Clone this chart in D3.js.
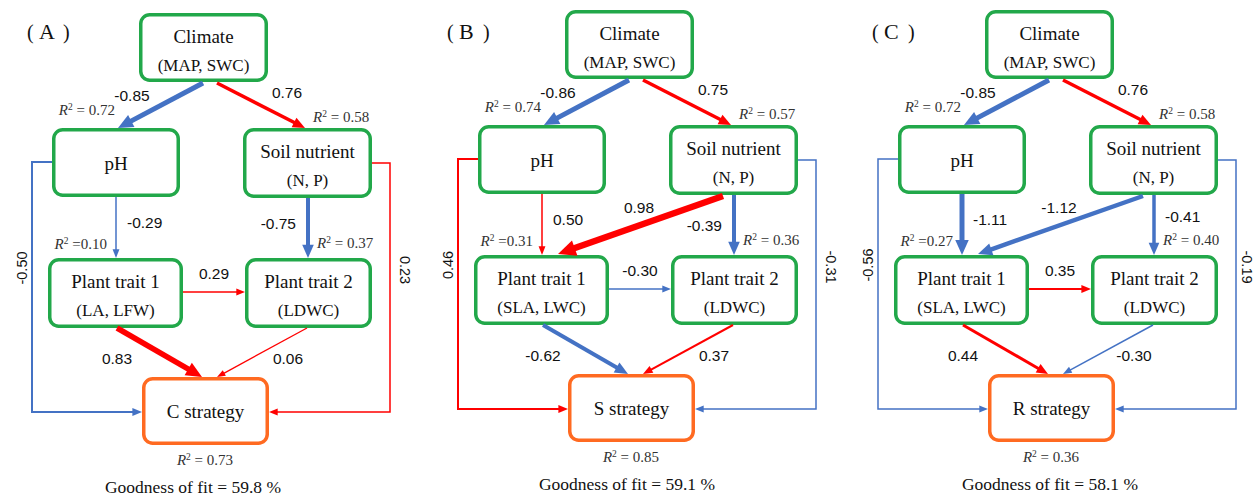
<!DOCTYPE html>
<html><head><meta charset="utf-8">
<script src="https://cdn.jsdelivr.net/npm/d3@7"></script>
<style>html,body{margin:0;padding:0;background:#fff;}</style>
</head><body>
<svg id="chart" width="1255" height="497"></svg>
<script>
// ---------------- DATA ----------------
const panels = ["A", "B", "C"];
const strategies = ["C strategy", "S strategy", "R strategy"];
const trait1Labels = ["(LA, LFW)", "(SLA, LWC)", "(SLA, LWC)"];
const goodnessOfFit = [59.8, 59.1, 58.1];

const r2pH = [0.72, 0.74, 0.72];
const r2Soil = [0.58, 0.57, 0.58];
const r2Trait1 = [0.10, 0.31, 0.27];
const r2Trait2 = [0.37, 0.36, 0.40];
const r2Strategy = [0.73, 0.85, 0.36];

const climateToPH = [-0.85, -0.86, -0.85];
const climateToSoil = [0.76, 0.75, 0.76];
const pHToTrait1 = [-0.29, 0.50, -1.11];
const soilToTrait2 = [-0.75, -0.39, -0.41];
const soilToTrait1 = [null, 0.98, -1.12];
const trait1ToTrait2 = [0.29, -0.30, 0.35];
const trait1ToStrategy = [0.83, -0.62, 0.44];
const trait2ToStrategy = [0.06, 0.37, -0.30];
const pHToStrategy = [-0.50, 0.46, -0.56];
const soilToStrategy = [0.23, -0.31, -0.19];

// ---------------- STYLE / LAYOUT ----------------
const lineWidths = {
  climateToPH: [5, 5, 5], climateToSoil: [3.5, 3.5, 3.5],
  pHToTrait1: [1.5, 1.5, 5], soilToTrait2: [4, 4, 3.5],
  soilToTrait1: [0, 6.5, 4.5], trait1ToTrait2: [1.5, 1.5, 2],
  trait1ToStrategy: [5.5, 4, 3], trait2ToStrategy: [1.3, 2, 1.5],
  pHToStrategy: [2, 2, 1.5], soilToStrategy: [1.5, 1.5, 1.5]
};
const panelX = d3.scaleOrdinal().domain([0, 1, 2]).range([0, 426, 846]);
const panelY = d3.scaleOrdinal().domain([0, 1, 2]).range([0, -3, -3]);
const titleInkX = [27, 447, 872];
const goodX = [193, 201, 204];
const rightLabelX = [400, 400, 396];

const boxes = {
  climate: {x: 139, y: 13, w: 129, h: 69},
  pH: {x: 52, y: 128, w: 128, h: 69},
  soil: {x: 243, y: 128, w: 129, h: 70},
  trait1: {x: 48, y: 258, w: 135, h: 70},
  trait2: {x: 245, y: 258, w: 127, h: 70},
  strategy: {x: 142, y: 377, w: 127, h: 68}
};
const geom = {
  climateToPH: [[203, 83], [118, 128]],
  climateToSoil: [[217, 83], [305, 128]],
  pHToTrait1: [[116, 197], [116, 258]],
  soilToTrait2: [[308, 198], [308, 258]],
  soilToTrait1: [[297, 199], [132, 257]],
  trait1ToTrait2: [[183, 292], [245, 292]],
  trait1ToStrategy: [[117, 328], [202, 377]],
  trait2ToStrategy: [[307, 328], [217, 377]],
  pHToStrategy: [[52, 162], [32, 162], [32, 412], [142, 412]],
  soilToStrategy: [[372, 163], [390, 163], [390, 412], [269, 412]]
};
const labelPos = {
  climateToPH: () => ({x: 132, y: 101, a: "middle"}),
  climateToSoil: () => ({x: 287, y: 98, a: "middle"}),
  pHToTrait1: () => ({x: 127, y: 228, a: "start"}),
  soilToTrait2: i => i === 2 ? {x: 319, y: 225, a: "start"} : {x: 296, y: i === 0 ? 229 : 234, a: "end"},
  soilToTrait1: () => ({x: 213, y: 216, a: "middle"}),
  trait1ToTrait2: () => ({x: 214, y: 279, a: "middle"}),
  trait1ToStrategy: () => ({x: 117, y: 364, a: "middle"}),
  trait2ToStrategy: () => ({x: 288, y: 364, a: "middle"}),
  pHToStrategy: () => ({x: 27, y: 268, a: "middle", rot: -90}),
  soilToStrategy: i => ({x: rightLabelX[i], y: 270, a: "middle", rot: 90})
};
const pathData = {climateToPH, climateToSoil, pHToTrait1, soilToTrait2, soilToTrait1,
  trait1ToTrait2, trait1ToStrategy, trait2ToStrategy, pHToStrategy, soilToStrategy};

const color = d3.scaleThreshold().domain([0]).range(["#4472C4", "#FF0000"]);
const GREEN = "#22A84A", ORANGE = "#FF6A21";
const fmt = v => (v < 0 ? "-" : "") + d3.format(".2f")(Math.abs(v));
const serif = "'Liberation Serif','Times New Roman',serif";
const sans = "'Liberation Sans',Arial,sans-serif";

const svg = d3.select("#chart");
const line = d3.line();

function arrow(g, pts, w, col) {
  const n = pts.length;
  const tip = pts[n - 1], prev = pts[n - 2];
  const dx = tip[0] - prev[0], dy = tip[1] - prev[1];
  const len = Math.hypot(dx, dy);
  const ux = dx / len, uy = dy / len;
  const L = 6 + 1.8 * w, HW = (4 + 1.9 * w) / 2;
  const shaft = pts.slice(0, n - 1).concat([[tip[0] - ux * L * 0.8, tip[1] - uy * L * 0.8]]);
  g.append("path").attr("d", line(shaft)).attr("fill", "none")
    .attr("stroke", col).attr("stroke-width", w).attr("stroke-linejoin", "miter");
  const bx = tip[0] - ux * L, by = tip[1] - uy * L;
  g.append("path").attr("d", line([tip, [bx - uy * HW, by + ux * HW], [bx + uy * HW, by - ux * HW]]) + "Z")
    .attr("fill", col);
}

function r2Text(g, x, y, anchor, val, space) {
  const t = g.append("text").attr("x", x).attr("y", y).attr("text-anchor", anchor)
    .attr("font-family", serif).attr("font-size", 15).attr("fill", "#333");
  t.append("tspan").attr("font-style", "italic").text("R");
  t.append("tspan").attr("font-size", 9.5).attr("dy", -5.5).text("2");
  t.append("tspan").attr("dy", 5.5).text(space ? " = " + val.toFixed(2) : " =" + val.toFixed(2));
}

panels.forEach((letter, i) => {
  const g = svg.append("g").attr("transform", `translate(${panelX(i)},${panelY(i)})`);
  // title （A）
  const tx = titleInkX[i];
  const tt = svg.append("text").attr("y", 39).attr("font-family", serif).attr("fill", "#111");
  tt.append("tspan").attr("x", tx).attr("font-size", 20).text("(");
  tt.append("tspan").attr("x", tx + 12).attr("font-size", 22).text(letter);
  tt.append("tspan").attr("x", tx + 36).attr("font-size", 20).text(")");

  const texts = {
    climate: ["Climate", "(MAP, SWC)"],
    pH: ["pH"],
    soil: ["Soil nutrient", "(N, P)"],
    trait1: ["Plant trait 1", trait1Labels[i]],
    trait2: ["Plant trait 2", "(LDWC)"],
    strategy: [strategies[i]]
  };
  Object.entries(boxes).forEach(([k, b]) => {
    g.append("rect").attr("x", b.x + 1.75).attr("y", b.y + 1.75)
      .attr("width", b.w - 3.5).attr("height", b.h - 3.5).attr("rx", 9)
      .attr("fill", "#fff").attr("stroke", k === "strategy" ? ORANGE : GREEN)
      .attr("stroke-width", 3.5);
    const lines = texts[k];
    const cx = b.x + b.w / 2;
    if (lines.length === 2) {
      g.append("text").attr("x", cx).attr("y", b.y + 30).attr("text-anchor", "middle")
        .attr("font-family", serif).attr("font-size", 19).attr("fill", "#111").text(lines[0]);
      g.append("text").attr("x", cx).attr("y", b.y + 58).attr("text-anchor", "middle")
        .attr("font-family", serif).attr("font-size", 17).attr("fill", "#111").text(lines[1]);
    } else {
      g.append("text").attr("x", cx).attr("y", b.y + b.h / 2 + 7).attr("text-anchor", "middle")
        .attr("font-family", serif).attr("font-size", 19).attr("fill", "#111").text(lines[0]);
    }
  });

  // paths
  Object.entries(pathData).forEach(([k, arr]) => {
    const v = arr[i];
    if (v === null || v === undefined) return;
    arrow(g, geom[k], lineWidths[k][i], color(v));
    const p = labelPos[k](i);
    const t = g.append("text").attr("text-anchor", p.a)
      .attr("font-family", sans).attr("font-size", p.rot ? 14.5 : 15.5).attr("fill", "#111").text(fmt(v));
    if (p.rot) t.attr("transform", `translate(${p.x},${p.y}) rotate(${p.rot})`);
    else t.attr("x", p.x).attr("y", p.y);
  });

  // R2 labels
  r2Text(g, 115, 115, "end", r2pH[i], true);
  r2Text(g, 313, 122, "start", r2Soil[i], true);
  r2Text(g, 107, 249, "end", r2Trait1[i], false);
  r2Text(g, 317, 248, "start", r2Trait2[i], true);
  r2Text(g, 205, 465, "middle", r2Strategy[i], true);

  g.append("text").attr("x", goodX[i]).attr("y", 493).attr("text-anchor", "middle")
    .attr("font-family", serif).attr("font-size", 17.5).attr("fill", "#111")
    .text(`Goodness of fit = ${goodnessOfFit[i].toFixed(1)} %`);
});
</script>
</body></html>
